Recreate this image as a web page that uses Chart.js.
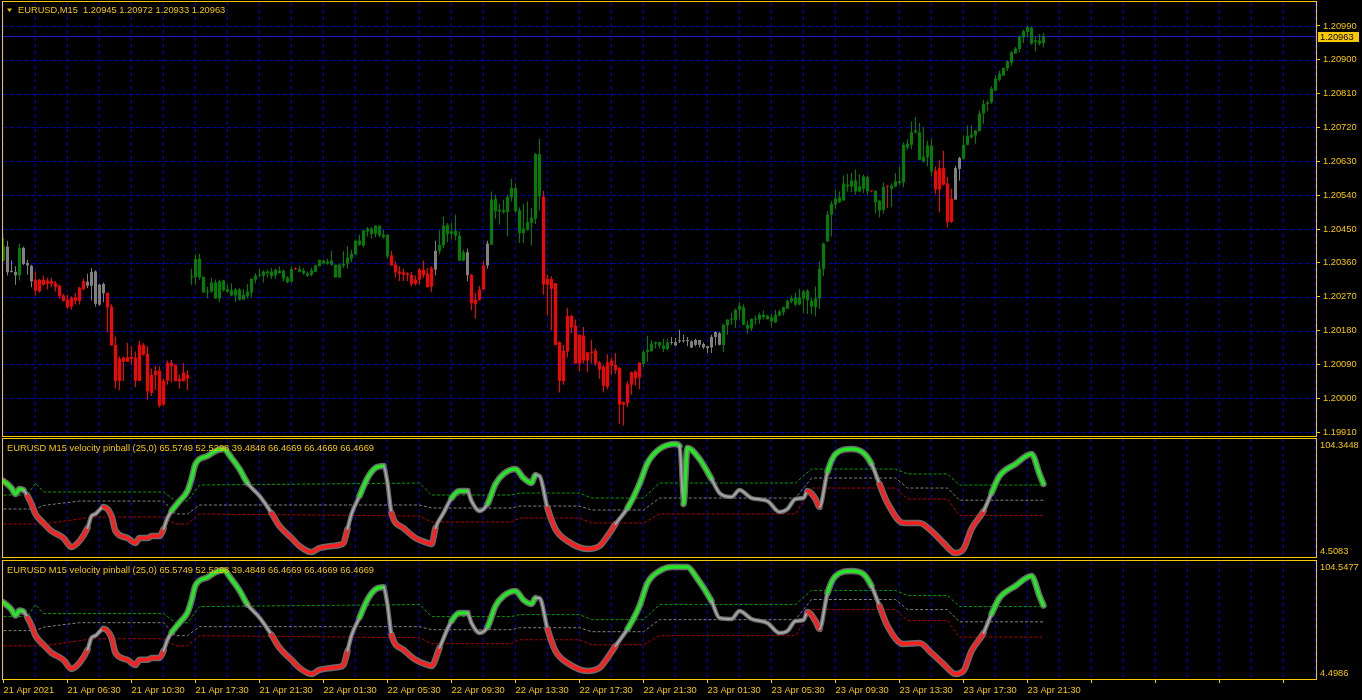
<!DOCTYPE html>
<html>
<head>
<meta charset="utf-8">
<title>EURUSD,M15</title>
<script src="https://cdn.jsdelivr.net/npm/chart.js@4.4.1/dist/chart.umd.min.js"></script>
<style>
  html, body { margin: 0; padding: 0; background: #000; overflow: hidden; }
  #wrap { position: relative; width: 1362px; height: 700px; background: #000; }
  #wrap canvas { position: absolute; left: 0; }
</style>
</head>
<body>
<div id="wrap">
  <canvas id="priceChart" width="1362" height="437" style="top:0"></canvas>
  <canvas id="velChart1" width="1362" height="122" style="top:437px"></canvas>
  <canvas id="velChart2" width="1362" height="141" style="top:559px"></canvas>
</div>
<script>
// EURUSD M15 bars, 21 Apr 02:30 -> 23 Apr 23:00 (2021)
const opens = [
  1.20366,1.20403,1.20337,1.20336,1.20327,1.20400,1.20360,1.20352,1.20315,1.20284,
  1.20315,1.20304,1.20312,1.20306,1.20299,1.20273,1.20262,1.20244,1.20268,1.20259,
  1.20290,1.20310,1.20299,1.20337,1.20249,1.20304,1.20280,1.20243,1.20142,1.20046,
  1.20108,1.20097,1.20110,1.20108,1.20046,1.20142,1.20118,1.20014,1.20061,1.20073,
  1.19983,1.20046,1.20094,1.20089,1.20045,1.20046,1.20062,1.20321,1.20322,1.20371,
  1.20323,1.20281,1.20283,1.20308,1.20265,1.20313,1.20290,1.20287,1.20273,1.20289,
  1.20262,1.20271,1.20281,1.20315,1.20326,1.20326,1.20337,1.20324,1.20326,1.20339,
  1.20339,1.20321,1.20310,1.20344,1.20344,1.20340,1.20332,1.20328,1.20336,1.20351,
  1.20366,1.20358,1.20355,1.20355,1.20321,1.20353,1.20358,1.20371,1.20382,1.20419,
  1.20406,1.20443,1.20451,1.20437,1.20459,1.20435,1.20435,1.20380,1.20355,1.20337,
  1.20335,1.20328,1.20328,1.20304,1.20315,1.20342,1.20331,1.20297,1.20342,1.20391,
  1.20406,1.20461,1.20437,1.20446,1.20432,1.20366,1.20388,1.20328,1.20250,1.20262,
  1.20289,1.20353,1.20408,1.20530,1.20497,1.20500,1.20495,1.20535,1.20559,1.20500,
  1.20439,1.20448,1.20466,1.20477,1.20649,1.20536,1.20302,1.20317,1.20306,1.20149,
  1.20045,1.20124,1.20219,1.20193,1.20092,1.20166,1.20100,1.20120,1.20126,1.20095,
  1.20083,1.20030,1.20086,1.20089,1.20080,1.19983,1.19987,1.20036,1.20053,1.20055,
  1.20091,1.20123,1.20126,1.20145,1.20149,1.20140,1.20131,1.20149,1.20149,1.20151,
  1.20153,1.20152,1.20151,1.20142,1.20155,1.20144,1.20138,1.20135,1.20163,1.20173,
  1.20142,1.20194,1.20209,1.20207,1.20235,1.20242,1.20195,1.20185,1.20211,1.20209,
  1.20222,1.20210,1.20215,1.20202,1.20220,1.20228,1.20238,1.20257,1.20268,1.20249,
  1.20265,1.20286,1.20259,1.20242,1.20265,1.20344,1.20417,1.20488,1.20515,1.20521,
  1.20526,1.20568,1.20563,1.20579,1.20550,1.20557,1.20588,1.20550,1.20552,1.20525,
  1.20501,1.20563,1.20557,1.20563,1.20577,1.20574,1.20667,1.20674,1.20707,1.20707,
  1.20630,1.20641,1.20672,1.20606,1.20555,1.20612,1.20571,1.20469,1.20528,1.20610,
  1.20637,1.20674,1.20694,1.20699,1.20710,1.20757,1.20783,1.20787,1.20818,1.20847,
  1.20858,1.20877,1.20893,1.20917,1.20929,1.20960,1.20974,1.20985,1.20948,1.20951,
  1.20945
];
const highs = [
  1.20426,1.20419,1.20366,1.20351,1.20411,1.20403,1.20368,1.20355,1.20337,1.20317,
  1.20326,1.20320,1.20320,1.20312,1.20302,1.20277,1.20275,1.20271,1.20280,1.20296,
  1.20318,1.20331,1.20346,1.20340,1.20304,1.20308,1.20281,1.20250,1.20164,1.20111,
  1.20111,1.20147,1.20138,1.20124,1.20153,1.20147,1.20138,1.20078,1.20086,1.20085,
  1.20052,1.20100,1.20102,1.20089,1.20062,1.20094,1.20074,1.20344,1.20382,1.20384,
  1.20323,1.20296,1.20320,1.20315,1.20315,1.20315,1.20302,1.20306,1.20293,1.20293,
  1.20290,1.20304,1.20318,1.20332,1.20344,1.20340,1.20342,1.20346,1.20344,1.20351,
  1.20342,1.20324,1.20351,1.20348,1.20352,1.20346,1.20337,1.20346,1.20355,1.20368,
  1.20368,1.20370,1.20392,1.20355,1.20359,1.20391,1.20404,1.20395,1.20422,1.20435,
  1.20448,1.20455,1.20455,1.20459,1.20459,1.20448,1.20435,1.20392,1.20364,1.20351,
  1.20344,1.20335,1.20336,1.20326,1.20346,1.20366,1.20346,1.20351,1.20419,1.20446,
  1.20483,1.20466,1.20466,1.20488,1.20444,1.20395,1.20398,1.20331,1.20280,1.20299,
  1.20366,1.20419,1.20550,1.20541,1.20517,1.20528,1.20541,1.20583,1.20572,1.20508,
  1.20517,1.20524,1.20506,1.20652,1.20690,1.20552,1.20328,1.20324,1.20306,1.20151,
  1.20142,1.20240,1.20222,1.20209,1.20169,1.20189,1.20122,1.20155,1.20133,1.20098,
  1.20089,1.20117,1.20108,1.20120,1.20083,1.19991,1.20045,1.20071,1.20074,1.20095,
  1.20129,1.20166,1.20155,1.20151,1.20149,1.20158,1.20158,1.20163,1.20160,1.20182,
  1.20169,1.20163,1.20154,1.20158,1.20155,1.20148,1.20140,1.20169,1.20178,1.20176,
  1.20198,1.20210,1.20228,1.20238,1.20255,1.20249,1.20206,1.20211,1.20219,1.20228,
  1.20233,1.20222,1.20224,1.20235,1.20235,1.20244,1.20262,1.20273,1.20280,1.20291,
  1.20288,1.20290,1.20268,1.20297,1.20364,1.20414,1.20497,1.20524,1.20555,1.20550,
  1.20593,1.20597,1.20599,1.20608,1.20596,1.20595,1.20592,1.20552,1.20552,1.20528,
  1.20574,1.20565,1.20572,1.20599,1.20615,1.20681,1.20689,1.20736,1.20748,1.20732,
  1.20721,1.20685,1.20690,1.20617,1.20634,1.20658,1.20588,1.20557,1.20618,1.20642,
  1.20699,1.20725,1.20725,1.20714,1.20765,1.20794,1.20792,1.20830,1.20858,1.20871,
  1.20880,1.20898,1.20924,1.20934,1.20965,1.20980,1.20991,1.20989,1.20961,1.20969,
  1.20972
];
const lows = [
  1.20364,1.20326,1.20334,1.20302,1.20313,1.20354,1.20328,1.20295,1.20273,1.20281,
  1.20299,1.20289,1.20296,1.20284,1.20265,1.20257,1.20238,1.20235,1.20249,1.20249,
  1.20287,1.20293,1.20260,1.20244,1.20246,1.20255,1.20175,1.20140,1.20026,1.20022,
  1.20046,1.20097,1.20089,1.20029,1.20046,1.20113,1.19996,1.20006,1.20022,1.19975,
  1.19980,1.20036,1.20042,1.20045,1.20025,1.20044,1.20022,1.20302,1.20302,1.20315,
  1.20281,1.20265,1.20281,1.20265,1.20255,1.20284,1.20280,1.20271,1.20255,1.20260,
  1.20262,1.20265,1.20267,1.20306,1.20322,1.20308,1.20321,1.20317,1.20318,1.20331,
  1.20311,1.20306,1.20308,1.20340,1.20335,1.20328,1.20322,1.20324,1.20335,1.20351,
  1.20356,1.20355,1.20352,1.20321,1.20321,1.20346,1.20344,1.20362,1.20382,1.20406,
  1.20401,1.20430,1.20424,1.20428,1.20429,1.20424,1.20371,1.20353,1.20321,1.20312,
  1.20312,1.20312,1.20297,1.20300,1.20302,1.20320,1.20295,1.20282,1.20327,1.20382,
  1.20399,1.20415,1.20422,1.20420,1.20364,1.20364,1.20311,1.20234,1.20211,1.20259,
  1.20289,1.20344,1.20408,1.20477,1.20461,1.20491,1.20430,1.20524,1.20494,1.20413,
  1.20413,1.20446,1.20406,1.20463,1.20500,1.20275,1.20220,1.20180,1.20140,1.20015,
  1.20036,1.20109,1.20173,1.20092,1.20071,1.20092,1.20069,1.20092,1.20086,1.20051,
  1.20015,1.20024,1.20062,1.20064,1.19931,1.19927,1.19976,1.20009,1.20033,1.20024,
  1.20083,1.20096,1.20123,1.20132,1.20132,1.20123,1.20127,1.20142,1.20140,1.20147,
  1.20148,1.20138,1.20133,1.20138,1.20135,1.20131,1.20120,1.20120,1.20140,1.20140,
  1.20122,1.20169,1.20195,1.20187,1.20209,1.20194,1.20171,1.20179,1.20195,1.20198,
  1.20209,1.20209,1.20188,1.20200,1.20218,1.20220,1.20237,1.20253,1.20244,1.20247,
  1.20226,1.20224,1.20224,1.20218,1.20238,1.20324,1.20417,1.20430,1.20503,1.20519,
  1.20526,1.20550,1.20548,1.20541,1.20548,1.20546,1.20541,1.20548,1.20491,1.20481,
  1.20491,1.20506,1.20508,1.20561,1.20568,1.20561,1.20661,1.20663,1.20704,1.20633,
  1.20626,1.20617,1.20590,1.20543,1.20494,1.20566,1.20454,1.20466,1.20528,1.20579,
  1.20634,1.20673,1.20690,1.20677,1.20710,1.20730,1.20763,1.20783,1.20818,1.20843,
  1.20858,1.20870,1.20885,1.20916,1.20920,1.20945,1.20960,1.20940,1.20923,1.20938,
  1.20933
];
const closes = [
  1.20404,1.20335,1.20336,1.20327,1.20400,1.20357,1.20353,1.20311,1.20286,1.20315,
  1.20302,1.20313,1.20304,1.20296,1.20271,1.20259,1.20242,1.20268,1.20259,1.20294,
  1.20311,1.20299,1.20336,1.20251,1.20302,1.20279,1.20242,1.20140,1.20046,1.20105,
  1.20097,1.20109,1.20105,1.20046,1.20142,1.20116,1.20018,1.20062,1.20073,1.19980,
  1.20046,1.20094,1.20085,1.20045,1.20052,1.20068,1.20052,1.20322,1.20370,1.20321,
  1.20281,1.20283,1.20308,1.20265,1.20311,1.20287,1.20283,1.20273,1.20289,1.20262,
  1.20275,1.20284,1.20318,1.20326,1.20327,1.20337,1.20332,1.20337,1.20342,1.20333,
  1.20318,1.20308,1.20344,1.20343,1.20336,1.20332,1.20326,1.20340,1.20353,1.20368,
  1.20358,1.20363,1.20366,1.20321,1.20355,1.20358,1.20374,1.20384,1.20419,1.20408,
  1.20446,1.20451,1.20437,1.20459,1.20433,1.20429,1.20377,1.20353,1.20335,1.20331,
  1.20328,1.20332,1.20304,1.20315,1.20342,1.20328,1.20295,1.20346,1.20392,1.20408,
  1.20459,1.20437,1.20444,1.20432,1.20366,1.20388,1.20327,1.20253,1.20262,1.20289,
  1.20353,1.20411,1.20528,1.20497,1.20501,1.20494,1.20535,1.20559,1.20497,1.20439,
  1.20451,1.20468,1.20480,1.20649,1.20537,1.20302,1.20317,1.20291,1.20142,1.20046,
  1.20126,1.20219,1.20188,1.20092,1.20169,1.20100,1.20122,1.20124,1.20092,1.20076,
  1.20033,1.20095,1.20100,1.20074,1.19983,1.19989,1.20037,1.20069,1.20071,1.20095,
  1.20123,1.20129,1.20145,1.20149,1.20140,1.20131,1.20148,1.20147,1.20140,1.20154,
  1.20151,1.20155,1.20135,1.20155,1.20142,1.20135,1.20133,1.20163,1.20176,1.20142,
  1.20195,1.20209,1.20211,1.20235,1.20246,1.20195,1.20185,1.20211,1.20209,1.20222,
  1.20216,1.20219,1.20204,1.20222,1.20231,1.20242,1.20259,1.20266,1.20249,1.20268,
  1.20284,1.20260,1.20244,1.20266,1.20344,1.20411,1.20488,1.20517,1.20531,1.20534,
  1.20571,1.20563,1.20579,1.20550,1.20563,1.20590,1.20550,1.20551,1.20521,1.20499,
  1.20562,1.20564,1.20565,1.20577,1.20572,1.20674,1.20677,1.20707,1.20712,1.20634,
  1.20642,1.20672,1.20603,1.20555,1.20612,1.20568,1.20469,1.20531,1.20612,1.20639,
  1.20674,1.20698,1.20701,1.20712,1.20757,1.20783,1.20787,1.20823,1.20850,1.20863,
  1.20878,1.20896,1.20920,1.20930,1.20961,1.20976,1.20987,1.20943,1.20952,1.20943,
  1.20963
];
// bar colour from the template, as runs: g green, r red, n grey
const candleRuns = [
  ['g',1],['n',3],['g',1],['n',3],['r',13],['n',5],['r',21],['g',26],['r',1],['g',23],
  ['r',11],['n',1],['g',7],['n',1],['r',4],['n',1],['g',13],['r',25],['g',7],['n',13],
  ['g',37],['r',1],['g',3],['r',1],['g',11],['r',5],['n',2],['g',21]
];

const priceTicks = [1.19910,1.20000,1.20090,1.20180,1.20270,1.20360,1.20450,1.20540,1.20630,1.20720,1.20810,1.20900,1.20990];
const timeLabels = ['21 Apr 2021','21 Apr 06:30','21 Apr 10:30','21 Apr 17:30','21 Apr 21:30','22 Apr 01:30',
  '22 Apr 05:30','22 Apr 09:30','22 Apr 13:30','22 Apr 17:30','22 Apr 21:30','23 Apr 01:30','23 Apr 05:30',
  '23 Apr 09:30','23 Apr 13:30','23 Apr 17:30','23 Apr 21:30'];

// velocity pinball (25,0), first window: bar index, value, segment colour
const velIdxA = [0,2,3,4,5,6,7,8,10,12, 15,17,19,21,22,23,25,27,28,31, 33,34,36,37,39,40,41,42,44,46,
  47,48,51,53,55,57,59,61,64,67, 69,72,74,77,79,82,84,85,86,87, 89,91,93,95,96,97,100,103,106,107,
  108,110,112,114,116,117,119,121,123,125, 128,130,132,133,134,136,138,141,146,149,
  151,153,156,159,161,164,168,169,170,171, 174,177,179,182,184,187,191,194,196,198,
  200,201,203,204,206,208,212,215,217,219, 221,225,229,232,235,238,240,242,245,247, 249,253,257,259,260];
const velValA = [69.1,63.0,57.9,62.2,61.3,56.2,49.3,40.7,32.9,26.0, 20.0,12.3,17.4,28.6,38.9,40.7,46.7,38.9,26.0,20.0,
  15.7,20.0,20.0,21.7,21.7,27.7,37.2,43.2,51.8,60.5, 70.8,83.7,90.6,94.9,96.6,88.9,79.4,67.3,56.2,41.5,
  30.3,20.0,13.1,7.9,11.4,13.1,14.0,15.7,27.7,40.7, 56.2,71.6,80.3,82.0,67.3,41.5,28.6,20.0,15.7,14.8,
  28.6,41.5,54.4,60.5,60.5,51.8,43.2,49.3,66.5,75.1, 79.4,71.6,67.3,74.2,73.4,45.8,27.7,17.4,10.5,13.1,
  21.7,32.0,45.8,66.5,84.5,96.6,100.9,99.2,49.3,97.5, 88.0,70.8,58.7,55.3,61.3,54.4,51.8,42.4,45.0,53.6,
  54.4,60.5,53.6,46.7,77.0,92.3,96.6,93.2,83.7,66.5, 50.1,32.9,32.9,26.0,15.7,7.1,10.5,27.7,43.2,58.7,
  73.4,83.7,92.3,75.1,66.47];
const velColA = ['gggggnrrrr','rrrrnnnrrr','rrrrrrnngg','ggggggggnn','rrrrrrrrrn','ngggnnrrrr',
  'rnnggnnngg','ggggnnrrrr','rrngggggng','ggnnnnnnnn','nnrrnggggn','rrrrrrrrrn','ggggg'].join('');

// second window: same start, own readings from bar 109
const velIdxB = velIdxA.slice(0, 60).concat([109,112,114,116,117,119,121,123,125,128,
  130,132,133,134,136,138,141,146,149,151, 153,156,159,161,164,167,171,173,177,179,
  182,184,187,191,194,196,198,200,201,203, 204,206,208,212,215,217,219,221,225,229,
  232,235,238,240,242,245,247,249,253,257, 259,260]);
const velValB = velValA.slice(0, 60).concat([30.2,53.2,60.1,60.1,51.5,43.0,48.1,66.1,74.6,78.9,
  71.2,67.8,72.9,72.9,46.4,27.6,17.3,10.5,13.1,21.6, 31.9,46.4,66.1,85.7,96.0,99.4,99.4,91.7,70.3,55.8,
  55.0,61.8,55.0,51.5,43.0,44.7,53.2,54.1,60.9,53.2, 46.4,77.2,91.7,96.0,93.4,83.2,66.1,49.0,33.6,34.4,
  25.9,16.5,7.9,10.5,27.6,43.0,59.2,72.9,83.2,91.7, 74.6,66.47]);
const velColB = velColA.slice(0, 60) + ['rnggnnnggg','gggnnrrrrr','rngggggggn','nnnnnnnnnr',
  'rnggggnrrr','rrrrrrnggg','gg'].join('');

// dotted levels (upper / middle / lower)
const lvlIdx  = [0,6,8,10,19,22,40,43,46,49,104,107,127,129,144,147,160,164,198,202,223,226,236,239,260];
const lvlHigh = [57.0,57.0,67.3,59.6,59.6,59.6,59.6,51.8,51.8,65.6,67.3,57.0,57.0,58.7,58.7,54.4,54.4,67.3,67.3,79.4,79.4,75.1,75.1,65.57,65.57];
const lvlMid  = [45.0,45.0,45.0,48.0,51.8,51.8,51.8,40.7,40.7,48.4,48.4,45.8,45.8,47.5,47.5,44.1,44.1,54.4,54.4,71.6,71.6,63.0,63.0,52.53,52.53];
const lvlLow  = [32.0,32.0,32.0,32.0,36.4,38.1,38.1,32.0,32.0,40.7,38.9,33.8,33.8,37.2,37.2,32.9,32.9,40.7,40.7,63.0,63.0,53.6,53.6,39.48,39.48];

const velTitle = 'EURUSD M15 velocity pinball (25,0) 65.5749 52.5298 39.4848 66.4669 66.4669 66.4669';

// ---- look ----
const gold = '#F5C800';
const gridBlue = '#0000B4';
const bidBlue = '#1C1CC0';
const candleCol = { g: '#008000', r: '#FF0000', n: '#808080' };
const velCol = { g: '#24E824', r: '#FF1E1E', n: '#A6A6A6' };
const fontFamily = '"Liberation Sans", Arial, sans-serif';
const fontSize = 9.3;
const cssFont = fontSize + 'px ' + fontFamily;
Chart.defaults.font.family = fontFamily;
Chart.defaults.font.size = fontSize;

const xMin = -0.125, xMax = 328.125;   // 4 px per bar
const gridStep = 8;                     // dotted column every 2 hours

let candleState = [];
candleRuns.forEach(([s, n]) => { for (let k = 0; k < n; k++) candleState.push(s); });

function timeAxis(showLabels, height) {
  return {
    type: 'linear', min: xMin, max: xMax, offset: false,
    afterBuildTicks: (s) => {
      let t = [];
      for (let v = 0; v <= xMax; v += gridStep) t.push({ value: v });
      s.ticks = t;
    },
    afterFit: (s) => { s.height = height; s.paddingLeft = 0; s.paddingRight = 0; },
    border: { display: false },
    grid: {
      offset: false, drawOnChartArea: false, drawTicks: showLabels, tickLength: 4,
      tickColor: (c) => (c.tick && c.tick.value % 16 === 0) ? gold : 'rgba(0,0,0,0)'
    },
    ticks: {
      display: showLabels, autoSkip: false, maxRotation: 0, minRotation: 0, align: 'start', padding: 2,
      color: gold, font: { size: fontSize },
      callback: (v) => v % 16 === 0 ? (timeLabels[v / 16] || '') : ''
    }
  };
}

// dashed chart grid drawn from the scales (columns always, rows when priceRows is set)
function gridPlugin(priceRows) {
  return {
    id: 'dashGrid',
    beforeDatasetsDraw(chart) {
      const { ctx, chartArea: a, scales: { x, y } } = chart;
      ctx.save();
      ctx.strokeStyle = gridBlue;
      ctx.lineWidth = 1;
      ctx.setLineDash([4, 3]);
      ctx.beginPath();
      for (let v = 0; v <= xMax; v += gridStep) {
        const px = Math.floor(x.getPixelForValue(v)) + 0.5;
        ctx.moveTo(px, a.top);
        ctx.lineTo(px, a.bottom);
      }
      if (priceRows) {
        priceRows.forEach((p) => {
          const py = Math.round(y.getPixelForValue(p)) + 0.5;
          ctx.moveTo(a.left, py);
          ctx.lineTo(a.right, py);
        });
      }
      ctx.stroke();
      ctx.restore();
    }
  };
}

const framePlugin = {
  id: 'frame',
  afterDraw(chart) {
    const a = chart.chartArea, ctx = chart.ctx;
    ctx.save();
    ctx.strokeStyle = gold;
    ctx.lineWidth = 1;
    ctx.strokeRect(a.left - 0.5, a.top - 0.5, a.right - a.left + 1, a.bottom - a.top + 1);
    ctx.restore();
  }
};

const pricePlugin = {
  id: 'priceDecor',
  beforeDatasetsDraw(chart) {
    const { ctx, chartArea: a } = chart;
    const py = Math.round(chart.scales.y.getPixelForValue(closes[closes.length - 1])) + 0.5;
    ctx.save();
    ctx.strokeStyle = bidBlue;
    ctx.lineWidth = 1;
    ctx.beginPath(); ctx.moveTo(a.left, py); ctx.lineTo(a.right, py); ctx.stroke();
    ctx.restore();
  },
  afterDraw(chart) {
    const { ctx, chartArea: a } = chart;
    const last = closes.length - 1;
    const py = Math.round(chart.scales.y.getPixelForValue(closes[last]));
    ctx.save();
    // header
    ctx.fillStyle = gold;
    ctx.beginPath(); ctx.moveTo(7, 8.5); ctx.lineTo(12, 8.5); ctx.lineTo(9.5, 12); ctx.closePath(); ctx.fill();
    ctx.font = cssFont;
    ctx.textBaseline = 'middle';
    ctx.textAlign = 'left';
    let ohlc = [opens[last], highs[last], lows[last], closes[last]].map(v => v.toFixed(5)).join(' ');
    ctx.fillText('EURUSD,M15  ' + ohlc, 18, 10.5);
    // bid label
    ctx.fillRect(a.right + 2, py - 4, 41, 10);
    ctx.fillStyle = '#000';
    ctx.fillText(closes[last].toFixed(5), a.right + 4, py + 1);
    ctx.restore();
  }
};

new Chart(document.getElementById('priceChart'), {
  type: 'bar',
  data: {
    datasets: [
      {
        data: closes.map((c, i) => ({ x: i, y: [opens[i], c] })),
        order: 0, grouped: false, barThickness: 3, minBarLength: 1, borderWidth: 0, inflateAmount: 0,
        backgroundColor: (c) => candleCol[candleState[c.dataIndex]]
      },
      {
        data: closes.map((c, i) => ({ x: i, y: [lows[i], highs[i]] })),
        order: 1, grouped: false, barThickness: 1, minBarLength: 1, borderWidth: 0, inflateAmount: 0,
        backgroundColor: (c) => candleCol[candleState[c.dataIndex]]
      }
    ]
  },
  options: {
    responsive: false, animation: false, events: [],
    layout: { autoPadding: false, padding: { left: 3, right: 0, top: 2, bottom: 1 } },
    plugins: { legend: { display: false }, tooltip: { enabled: false } },
    scales: {
      x: timeAxis(false, 0),
      y: {
        type: 'linear', position: 'right', min: 1.198994, max: 1.210538,
        afterBuildTicks: (s) => { s.ticks = priceTicks.map(v => ({ value: v })); },
        afterFit: (s) => { s.width = 46; s.paddingTop = 0; s.paddingBottom = 0; },
        border: { display: false },
        grid: { drawOnChartArea: false, tickLength: 4, tickColor: gold },
        ticks: { color: gold, padding: 3, autoSkip: false, font: { size: fontSize }, callback: (v) => v.toFixed(5) }
      }
    }
  },
  plugins: [gridPlugin(priceTicks), framePlugin, pricePlugin]
});

function velocityChart(canvasId, idx, vals, cols, yMin, yMax, topText, bottomText, showTime) {
  const pts = idx.map((x, k) => ({ x: x, y: vals[k] }));
  const lvl = (arr) => lvlIdx.map((x, k) => ({ x: x, y: arr[k] }));
  const st = (c) => cols[c.p1DataIndex];
  const lineBase = { pointRadius: 0, fill: false, cubicInterpolationMode: 'monotone', borderJoinStyle: 'round', borderCapStyle: 'round' };
  const levelBase = { pointRadius: 0, fill: false, tension: 0, borderWidth: 1, borderDash: [3, 2], order: 2 };

  const labelPlugin = {
    id: 'velLabels',
    afterDraw(chart) {
      const { ctx, chartArea: a } = chart;
      ctx.save();
      ctx.font = cssFont;
      ctx.fillStyle = gold;
      ctx.textBaseline = 'middle';
      ctx.textAlign = 'left';
      ctx.fillText(velTitle, 7, a.top + 9);
      ctx.fillText(topText, a.right + 4, a.top + 6);
      ctx.fillText(bottomText, a.right + 4, a.bottom - 6);
      ctx.restore();
    }
  };

  return new Chart(document.getElementById(canvasId), {
    type: 'line',
    data: {
      datasets: [
        Object.assign({ data: pts, order: 0, borderColor: velCol.g, borderWidth: 4,
          segment: { borderColor: (c) => velCol[st(c)], borderWidth: (c) => st(c) === 'n' ? 2 : 3.5 } }, lineBase),
        Object.assign({ data: pts, order: 1, borderColor: '#6A6A6A', borderWidth: 6.5,
          segment: { borderWidth: (c) => st(c) === 'n' ? 4.5 : 6.5 } }, lineBase),
        Object.assign({ data: lvl(lvlHigh), borderColor: '#00A000' }, levelBase),
        Object.assign({ data: lvl(lvlMid), borderColor: '#808080' }, levelBase),
        Object.assign({ data: lvl(lvlLow), borderColor: '#B40000' }, levelBase)
      ]
    },
    options: {
      responsive: false, animation: false, events: [],
      layout: { autoPadding: false, padding: { left: 3, right: 0, top: 2, bottom: showTime ? 0 : 2 } },
      plugins: { legend: { display: false }, tooltip: { enabled: false } },
      scales: {
        x: timeAxis(showTime, showTime ? 21 : 0),
        y: {
          type: 'linear', position: 'right', min: yMin, max: yMax,
          ticks: { display: false }, grid: { display: false }, border: { display: false },
          afterFit: (s) => { s.width = 46; s.paddingTop = 0; s.paddingBottom = 0; }
        }
      }
    },
    plugins: [gridPlugin(null), framePlugin, labelPlugin]
  });
}

velocityChart('velChart1', velIdxA, velValA, velColA, 3.65, 105.21, '104.3448', '4.5083', false);
velocityChart('velChart2', velIdxB, velValB, velColB, 3.64, 104.55, '104.5477', '4.4986', true);
</script>
</body>
</html>
